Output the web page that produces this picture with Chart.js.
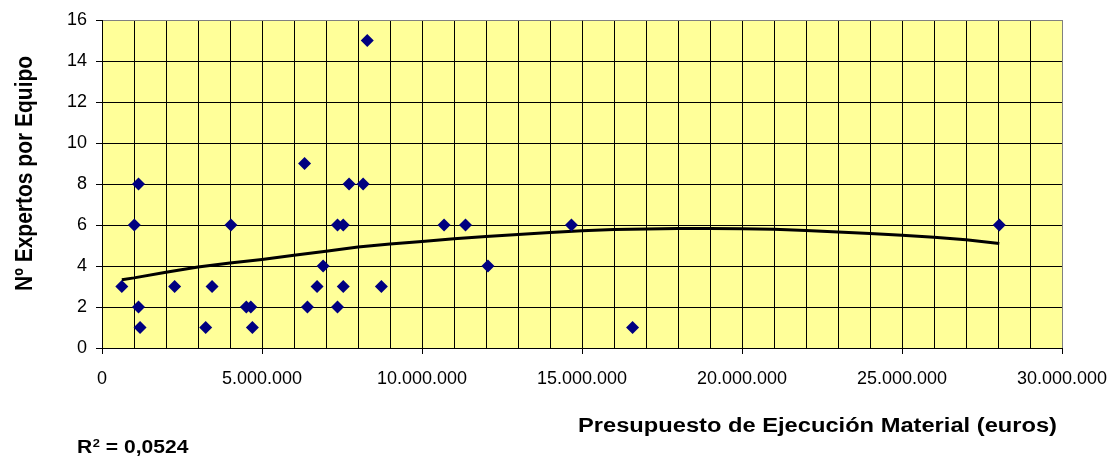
<!DOCTYPE html>
<html>
<head>
<meta charset="utf-8">
<script src="https://cdn.jsdelivr.net/npm/chart.js@4/dist/chart.umd.min.js"></script>
<style>
    html, body { margin: 0; padding: 0; background: #fff; }
    #wrap { width: 1118px; height: 460px; }
</style>
</head>
<body>
<div id="wrap"><canvas id="chart" width="1118" height="460"></canvas></div>
<script>
// Presupuesto (millones de euros) y nº de expertos de cada obra
const budgetM = [0.62, 1.01, 1.14, 1.14, 1.19, 2.27, 3.24, 3.44, 4.03, 4.51, 4.65, 4.70,
                 6.33, 6.42, 6.72, 6.91, 7.36, 7.36, 7.54, 7.54, 7.72, 8.16, 8.29, 8.73,
                 10.69, 11.36, 12.06, 14.67, 16.58, 28.04];
const experts = [3, 6, 8, 2, 1, 3, 1, 3, 6, 2, 2, 1,
                 9, 2, 3, 4, 6, 2, 6, 3, 8, 8, 15, 3,
                 6, 6, 4, 6, 1, 6];

// Linea de tendencia
const trendM = [0.62, 1, 2, 3, 4, 5, 6, 7, 8, 9, 10, 11, 12, 13, 14, 15,
                16, 17, 18, 19, 20, 21, 22, 23, 24, 25, 26, 27, 28.04];
const trendVal = [3.33, 3.42, 3.70, 3.95, 4.15, 4.32, 4.52, 4.72, 4.93, 5.07, 5.19, 5.33, 5.44, 5.54, 5.64, 5.72,
                  5.78, 5.81, 5.83, 5.83, 5.82, 5.79, 5.73, 5.66, 5.58, 5.50, 5.40, 5.28, 5.10];

const xTickLabels = ['0', '5.000.000', '10.000.000', '15.000.000', '20.000.000', '25.000.000', '30.000.000'];
const yTickLabels = ['0', '2', '4', '6', '8', '10', '12', '14', '16'];

const xTitle = 'Presupuesto de Ejecución Material (euros)';
const yTitle = 'Nº Expertos por Equipo';
const r2Text = ' = 0,0524';

const FONT = '"Liberation Sans", Arial, sans-serif';
const STRETCH = 1.17;

const plotBg = {
    id: 'plotBg',
    beforeDraw(chart) {
        const { ctx, chartArea: a } = chart;
        ctx.save();
        ctx.fillStyle = '#FFFF99';
        ctx.fillRect(a.left, a.top, a.right - a.left, a.bottom - a.top);
        ctx.restore();
    }
};

function stretchedText(ctx, text, x, y, width) {
    const w = ctx.measureText(text).width;
    ctx.save();
    ctx.translate(x, y);
    ctx.scale(width / w, 1);
    ctx.fillText(text, 0, 0);
    ctx.restore();
}

const titles = {
    id: 'titles',
    afterDraw(chart) {
        const ctx = chart.ctx;
        ctx.save();
        ctx.fillStyle = '#000';
        ctx.textAlign = 'left';
        ctx.textBaseline = 'alphabetic';

        // x axis title
        ctx.font = 'bold 20px ' + FONT;
        stretchedText(ctx, xTitle, 578, 432, 479);

        // y axis title (rotated)
        ctx.save();
        ctx.font = 'bold 21px ' + FONT;
        ctx.translate(31.5, 291);
        ctx.scale(STRETCH, 1);
        ctx.rotate(-Math.PI / 2);
        ctx.fillText(yTitle, 0, 0);
        ctx.restore();

        // R2
        ctx.save();
        ctx.translate(77, 453);
        ctx.scale(STRETCH, 1);
        ctx.font = 'bold 18px ' + FONT;
        ctx.fillText('R', 0, 0);
        let x = ctx.measureText('R').width;
        ctx.font = 'bold 11px ' + FONT;
        ctx.fillText('2', x + 0.5, -6);
        x += ctx.measureText('2').width + 0.5;
        ctx.font = 'bold 18px ' + FONT;
        ctx.fillText(r2Text, x, 0);
        ctx.restore();

        ctx.restore();
    }
};

new Chart(document.getElementById('chart'), {
    type: 'scatter',
    data: {
        datasets: [{
            label: 'Expertos',
            data: budgetM.map((m, i) => ({ x: m * 1e6, y: experts[i] })),
            pointStyle: 'rectRot',
            pointRadius: 6.5,
            backgroundColor: '#000080',
            borderColor: '#000080',
            borderWidth: 0
        }, {
            label: 'Tendencia',
            data: trendM.map((m, i) => ({ x: m * 1e6, y: trendVal[i] })),
            showLine: true,
            borderColor: '#000',
            borderWidth: 3,
            pointRadius: 0,
            tension: 0,
            fill: false
        }]
    },
    options: {
        responsive: false,
        animation: false,
        devicePixelRatio: 1,
        layout: { padding: { top: 20, right: 56, left: 0, bottom: 0 } },
        plugins: {
            legend: { display: false },
            tooltip: { enabled: false }
        },
        scales: {
            x: {
                type: 'linear',
                min: 0,
                max: 30e6,
                afterFit(s) {
                    s.height = 112;
                    s.paddingLeft = 0;
                    s.paddingRight = 0;
                },
                ticks: {
                    stepSize: 1e6,
                    autoSkip: false,
                    maxRotation: 0,
                    padding: 14,
                    color: '#000',
                    font: { family: FONT, size: 18 },
                    callback: v => (v % 5e6 === 0 ? xTickLabels[v / 5e6] : '')
                },
                grid: {
                    color: c => (c.tick && c.tick.value === 30e6 ? '#808080' : '#000'),
                    lineWidth: 1,
                    tickLength: 6,
                    tickColor: c => (c.tick && c.tick.value % 5e6 === 0 ? '#000' : 'rgba(0,0,0,0)')
                },
                border: { color: '#000', width: 1 }
            },
            y: {
                min: 0,
                max: 16,
                afterFit(s) {
                    s.width = 102;
                },
                ticks: {
                    stepSize: 2,
                    padding: 9,
                    color: '#000',
                    font: { family: FONT, size: 18 },
                    callback: v => yTickLabels[v / 2]
                },
                grid: {
                    color: c => (c.tick && c.tick.value === 16 ? '#808080' : '#000'),
                    lineWidth: 1,
                    tickLength: 6,
                    tickColor: '#000'
                },
                border: { color: '#000', width: 1 }
            }
        }
    },
    plugins: [plotBg, titles]
});
</script>
</body>
</html>
